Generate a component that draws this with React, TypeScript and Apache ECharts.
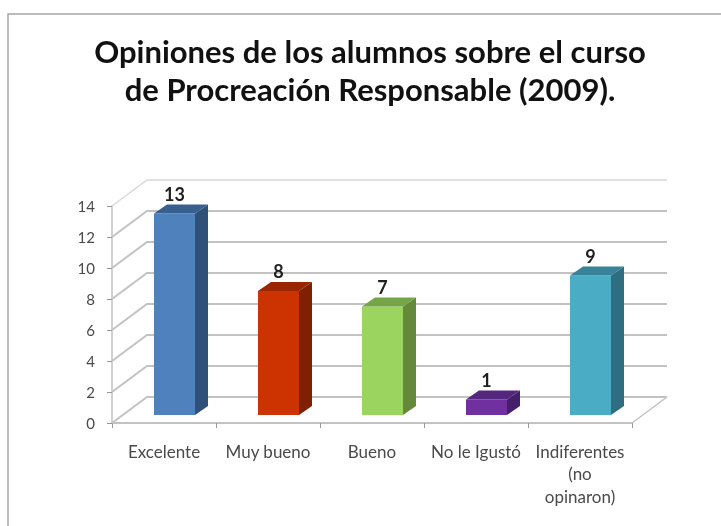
import React, { useEffect, useRef } from "react";
import * as echarts from "echarts";

const titleText = "Opiniones de los alumnos sobre el curso\nde Procreación Responsable (2009).";
const categories = ["Excelente", "Muy bueno", "Bueno", "No le Igustó", "Indiferentes\n(no\nopinaron)"];
const values = [13, 8, 7, 1, 9];
const gridTicks = [0, 2, 4, 6, 8, 10, 12, 14];
const frontColors = ["#4f81bd", "#cc3300", "#9bd55f", "#7030a0", "#4bacc6"];
const sideColors = ["#2f5078", "#7f2000", "#64893a", "#45206a", "#2f6d80"];
const topColors = ["#38608f", "#992600", "#76a548", "#55267d", "#38829a"];

const WALL_DX = 35;
const WALL_DY = -26;
const BAR_DX = 13;
const BAR_DY = -9;
const BAR_WIDTH = 41;
const BAR_SHIFT_X = -10;
const BAR_SHIFT_Y = -8;
const LINE = "#c2c2c2";

function renderWall(params: any, api: any) {
  const tick = api.value(0);
  const [x0, y] = api.coord([0, tick]);
  const xLeft = x0 - api.size([1, 0])[0] / 2;
  const xRight = xLeft + api.size([1, 0])[0] * categories.length;
  const children: any[] = [
    {
      type: "polyline",
      shape: { points: [[xLeft, y], [xLeft + WALL_DX, y + WALL_DY], [xRight + WALL_DX, y + WALL_DY]] },
      style: { stroke: tick === 14 ? "#d8d8d8" : LINE, lineWidth: tick === 14 ? 1.5 : 2, fill: "none" },
    },
  ];
  if (tick === 0) {
    children.push({
      type: "line",
      shape: { x1: xRight, y1: y, x2: xRight + WALL_DX, y2: y + WALL_DY },
      style: { stroke: LINE, lineWidth: 1.5 },
    });
  }
  return { type: "group", children };
}

function renderBar(params: any, api: any) {
  const idx = api.value(0);
  const val = api.value(1);
  const [cx, yTop0] = api.coord([idx, val]);
  const [, yBase0] = api.coord([idx, 0]);
  const x1 = cx + BAR_SHIFT_X;
  const x2 = x1 + BAR_WIDTH;
  const yT = yTop0 + BAR_SHIFT_Y;
  const yB = yBase0 + BAR_SHIFT_Y;
  return {
    type: "group",
    children: [
      { type: "rect", shape: { x: x1, y: yT, width: BAR_WIDTH, height: yB - yT }, style: { fill: frontColors[idx] } },
      {
        type: "polygon",
        shape: { points: [[x2, yT], [x2 + BAR_DX, yT + BAR_DY], [x2 + BAR_DX, yB + BAR_DY], [x2, yB]] },
        style: { fill: sideColors[idx] },
      },
      {
        type: "polygon",
        shape: { points: [[x1, yT], [x1 + BAR_DX, yT + BAR_DY], [x2 + BAR_DX, yT + BAR_DY], [x2, yT]] },
        style: { fill: topColors[idx] },
      },
      {
        type: "text",
        style: {
          x: x1 + BAR_WIDTH / 2,
          y: yT - 20,
          text: String(val),
          fill: "#1f1f1f",
          font: "bold 18px Lato",
          align: "center",
          verticalAlign: "middle",
        },
      },
    ],
  };
}

export default function App() {
  const ref = useRef<HTMLDivElement>(null);
  useEffect(() => {
    const chart = echarts.init(ref.current!, null, { renderer: "svg" });
    chart.setOption({
      animation: false,
      backgroundColor: "#ffffff",
      title: {
        text: titleText,
        left: 365,
        top: 27,
        textAlign: "center",
        textStyle: { fontFamily: "Lato", fontWeight: "bold", fontSize: 31, lineHeight: 38, color: "#111111" },
      },
      graphic: [
        {
          type: "polyline",
          shape: { points: [[8, 526], [8, 14], [721, 14]] },
          style: { stroke: "#a6a6a6", lineWidth: 1.5, fill: "none" },
        },
      ],
      grid: { left: 112, right: 89, top: 206, bottom: 103 },
      xAxis: {
        type: "category",
        data: categories,
        axisLine: { show: true, lineStyle: { color: LINE, width: 2 } },
        axisTick: { show: true, length: 5, lineStyle: { color: "#999999" } },
        axisLabel: { interval: 0, fontFamily: "Lato", fontSize: 17, color: "#4a4a4a", lineHeight: 22.5, margin: 17 },
      },
      yAxis: {
        type: "value",
        min: 0,
        max: 14,
        interval: 2,
        splitLine: { show: false },
        axisLine: { show: true, lineStyle: { color: LINE, width: 1.5 } },
        axisTick: { show: true, length: 5, lineStyle: { color: "#999999" } },
        axisLabel: { fontFamily: "Lato", fontSize: 15, color: "#4a4a4a", margin: 17 },
      },
      series: [
        {
          type: "custom",
          name: "walls",
          renderItem: renderWall,
          data: gridTicks.map((t) => [t]),
          encode: { y: 0 },
          silent: true,
          z: 1,
        },
        {
          type: "custom",
          name: "Opiniones",
          renderItem: renderBar,
          data: values.map((v, i) => [i, v]),
          encode: { x: 0, y: 1 },
          z: 3,
        },
      ],
    });
    return () => chart.dispose();
  }, []);
  return <div ref={ref} style={{ position: "absolute", left: 0, top: 0, width: 721, height: 526, filter: "blur(0.5px)" }} />;
}
